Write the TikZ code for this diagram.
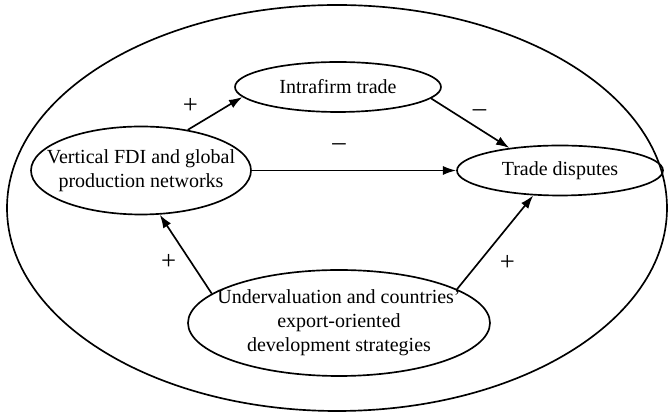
\documentclass[tikz,border=0pt]{standalone}
\usepackage{fontspec}
\setmainfont{Liberation Serif}
\usetikzlibrary{shapes.geometric,arrows.meta}
\begin{document}
\begin{tikzpicture}[x=0.6pt,y=-0.6pt,line width=1pt,
		font=\fontsize{12pt}{14.5pt}\selectfont,
		bubble/.style={draw,ellipse,inner sep=0pt},
		link/.style={-{Latex[length=8pt,width=5.5pt]}},
		sign/.style={font=\fontsize{16pt}{18pt}\selectfont}]
			\useasboundingbox(0,0)rectangle(668,414);
			\draw(337,208)ellipse[x radius=330,y radius=203];
			\node[bubble,minimum width=123.6pt,minimum height=30pt,
				label=center:Intrafirm trade](intra)at(338,87){};
			\node[bubble,minimum width=123.6pt,minimum height=30pt,
				label=center:Trade disputes](trade)at(560,170.5){};
			\node[bubble,minimum width=132pt,minimum height=52.8pt,
				label={[align=center]center:Vertical FDI and global\\production networks}](fdi)at(141,170.5){};
			\node[bubble,minimum width=181.2pt,minimum height=63.6pt,
				label={[align=center]center:Undervaluation and countries'\\export-oriented\\development strategies}](under)at(339,323){};
			\draw[link](fdi.41)--(intra.186)node[sign,pos=0.05,above=5pt](s1){+};
			\draw[link](intra.353)--(trade.156)node[sign,pos=0.62,above=4pt](s2){–};
			\draw[link](fdi.east)--(trade.west)node[sign,pos=0.427,above=8pt](s3){–};
			\draw[link](under.167)--(fdi.293)node[sign,pos=0.4,left=5pt](s4){+};
			\draw[link](under.16)--(trade.223)node[sign,pos=0.28,right=9pt](s5){+};
		\end{tikzpicture}
\end{document}
